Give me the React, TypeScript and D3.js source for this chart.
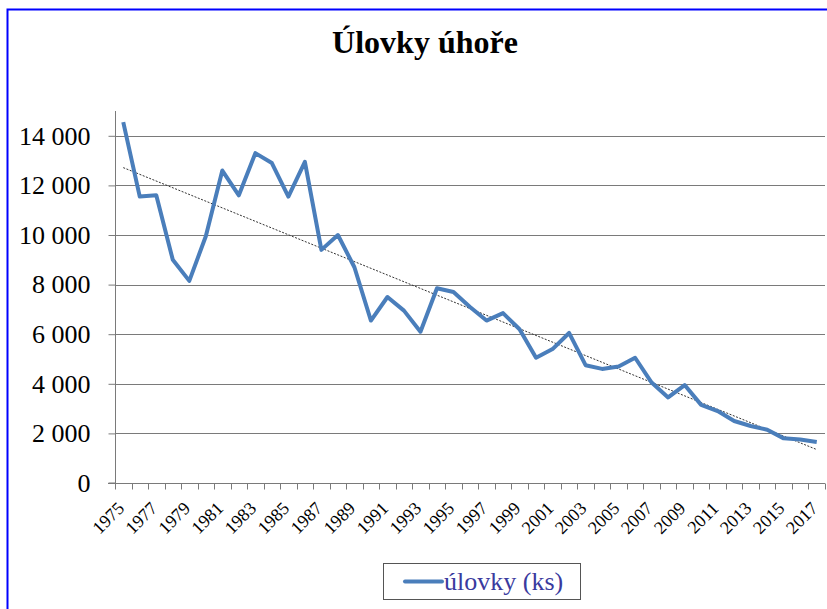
import React, { useEffect, useRef } from "react";
import * as d3 from "d3";

const years: string[] = d3.range(1975, 2018).map((y) => String(y));

const catches: number[] = [
  14550, 11550, 11600, 9000, 8150, 9950, 12600, 11600, 13300, 12900,
  11550, 12950, 9400, 10000, 8700, 6550, 7500, 6950, 6100, 7850,
  7700, 7100, 6550, 6850, 6200, 5050, 5400, 6050, 4750, 4600,
  4700, 5050, 4050, 3450, 3950, 3150, 2900, 2500, 2300, 2150,
  1800, 1750, 1650,
];

const yTicks: number[] = [0, 2000, 4000, 6000, 8000, 10000, 12000, 14000];

const title = "Úlovky úhoře";
const seriesName = "úlovky (ks)";

const fmt = (v: number) => (v === 0 ? "0" : d3.format(",")(v).replace(/,/g, " "));

export default function App() {
  const svgRef = useRef<SVGSVGElement>(null);

  useEffect(() => {
    if (!svgRef.current) return;
    const width = 827;
    const height = 609;
    const margin = { top: 111, right: 2, bottom: 126, left: 115 };

    const svg = d3.select(svgRef.current);
    svg.selectAll("*").remove();
    svg.attr("width", width).attr("height", height);

    const font = "Liberation Serif, Times New Roman, DejaVu Serif, serif";

    svg
      .append("rect")
      .attr("x", 7.5)
      .attr("y", 9.5)
      .attr("width", 900)
      .attr("height", 700)
      .attr("fill", "white")
      .attr("stroke", "#0000ff")
      .attr("stroke-width", 2);

    const x = d3
      .scaleBand<string>()
      .domain(years)
      .range([margin.left, width - margin.right]);
    const y = d3
      .scaleLinear()
      .domain([0, 15000])
      .range([height - margin.bottom, margin.top]);

    const cx = (d: string) => (x(d) || 0) + x.bandwidth() / 2;

    // mřížka
    svg
      .append("g")
      .selectAll("line")
      .data(yTicks.filter((t) => t > 0))
      .enter()
      .append("line")
      .attr("x1", margin.left)
      .attr("x2", width - margin.right)
      .attr("y1", (d) => Math.round(y(d)) + 0.5)
      .attr("y2", (d) => Math.round(y(d)) + 0.5)
      .attr("stroke", "#7a7a7a")
      .attr("stroke-width", 1);

    // osa y
    const yAxis = svg
      .append("g")
      .attr("transform", `translate(${margin.left + 0.5},0)`)
      .call(
        d3
          .axisLeft(y)
          .tickValues(yTicks)
          .tickSize(7)
          .tickPadding(18)
          .tickFormat((d) => fmt(d as number))
      );
    yAxis.select(".domain").attr("stroke", "#7a7a7a").attr("d", `M-7,${y(0)}H0V${margin.top}`);
    yAxis.selectAll(".tick line").attr("stroke", "#7a7a7a");
    yAxis
      .selectAll(".tick text")
      .style("font-family", font)
      .style("font-size", "26px")
      .attr("fill", "#000");
    yAxis.attr("font-family", null).attr("font-size", null);

    // osa x
    const x0 = Math.round(y(0)) + 0.5;
    const edges = years.map((d) => x(d) || 0).concat([width - margin.right]);
    svg
      .append("line")
      .attr("x1", margin.left - 7)
      .attr("x2", width - margin.right)
      .attr("y1", x0)
      .attr("y2", x0)
      .attr("stroke", "#7a7a7a");
    svg
      .append("g")
      .selectAll("line")
      .data(edges)
      .enter()
      .append("line")
      .attr("x1", (d) => Math.round(d) + 0.5)
      .attr("x2", (d) => Math.round(d) + 0.5)
      .attr("y1", x0)
      .attr("y2", x0 + 6)
      .attr("stroke", "#7a7a7a");

    svg
      .append("g")
      .selectAll("text")
      .data(years.filter((_, i) => i % 2 === 0))
      .enter()
      .append("text")
      .attr("transform", (d) => `translate(${cx(d) + 2},${x0 + 26}) rotate(-45)`)
      .attr("text-anchor", "end")
      .style("font-family", font)
      .style("font-size", "18px")
      .attr("fill", "#000")
      .text((d) => d);

    // lineární trend (nejmenší čtverce)
    const idx = years.map((_, i) => i);
    const mx = d3.mean(idx) as number;
    const my = d3.mean(catches) as number;
    const slope =
      d3.sum(idx, (i) => (i - mx) * (catches[i] - my)) /
      d3.sum(idx, (i) => (i - mx) * (i - mx));
    const intercept = my - slope * mx;
    const trend = d3
      .line<number>()
      .x((i) => cx(years[i]))
      .y((i) => y(intercept + slope * i));
    svg
      .append("path")
      .datum([0, years.length - 1])
      .attr("d", trend)
      .attr("fill", "none")
      .attr("stroke", "#333")
      .attr("stroke-width", 1)
      .attr("stroke-dasharray", "2,1.5");

    // data
    const line = d3
      .line<number>()
      .x((_, i) => cx(years[i]))
      .y((d) => y(d));
    svg
      .append("path")
      .datum(catches)
      .attr("d", line)
      .attr("fill", "none")
      .attr("stroke", "#4a7ebb")
      .attr("stroke-width", 4)
      .attr("stroke-linejoin", "round");

    // titulek
    svg
      .append("text")
      .attr("x", 425)
      .attr("y", 53)
      .attr("text-anchor", "middle")
      .style("font-family", font)
      .style("font-weight", "bold")
      .style("font-size", "32px")
      .text(title);

    // legenda
    const lg = svg.append("g");
    lg.append("rect")
      .attr("x", 383.5)
      .attr("y", 563.5)
      .attr("width", 197)
      .attr("height", 36)
      .attr("fill", "white")
      .attr("stroke", "#555")
      .attr("stroke-width", 1);
    lg.append("line")
      .attr("x1", 405)
      .attr("x2", 442)
      .attr("y1", 581.5)
      .attr("y2", 581.5)
      .attr("stroke", "#4a7ebb")
      .attr("stroke-width", 4)
      .attr("stroke-linecap", "round");
    lg.append("text")
      .attr("x", 444)
      .attr("y", 590)
      .style("font-family", font)
      .style("font-size", "26px")
      .attr("fill", "#3a3a9e")
      .text(seriesName);
  }, []);

  return (
    <div>
      <svg ref={svgRef} style={{ position: "absolute", left: 0, top: 0 }} />
    </div>
  );
}
